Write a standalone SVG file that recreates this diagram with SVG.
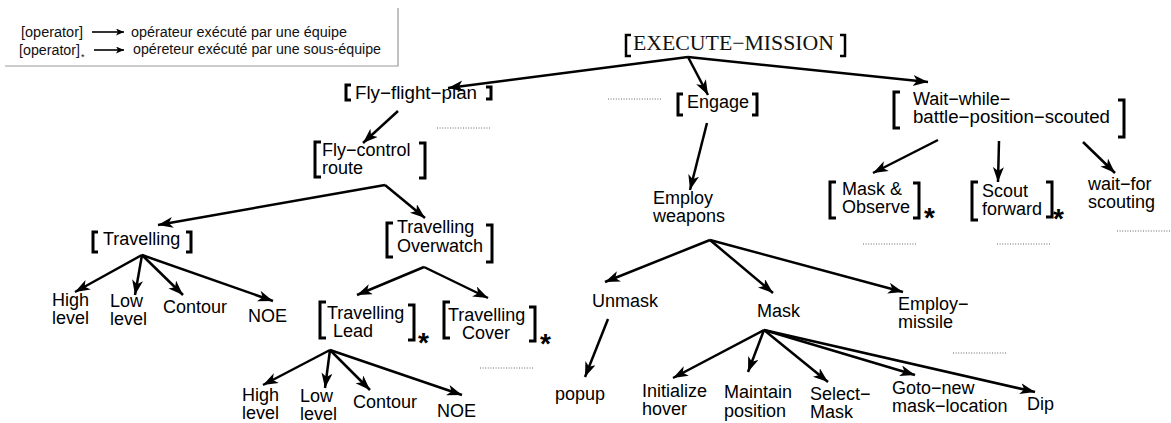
<svg xmlns="http://www.w3.org/2000/svg" width="1171" height="423" viewBox="0 0 1171 423">
<style>
.t{font-family:"Liberation Sans",Arial,sans-serif;font-size:18px;fill:#000}
.ts{font-family:"Liberation Serif","Times New Roman",serif;font-size:21px;fill:#111}
.lg{font-family:"Liberation Sans",Arial,sans-serif;font-size:14px;fill:#111}
.st{font-family:"Liberation Sans",Arial,sans-serif;font-size:28px;font-weight:bold;fill:#000}
.br{fill:none;stroke:#000;stroke-width:3}
.e{fill:none;stroke:#000;stroke-width:2.5;marker-end:url(#ah)}
.le{fill:none;stroke:#000;stroke-width:1.6;marker-end:url(#lah)}
.dot{fill:none;stroke:#666;stroke-width:1;stroke-dasharray:1 1.6}
.frame{fill:none;stroke:#999;stroke-width:1.2}
</style>
<defs>
<marker id="ah" markerUnits="userSpaceOnUse" markerWidth="17" markerHeight="12" refX="15" refY="5.5" orient="auto">
<path d="M0,0 L15,5.5 L0,11 L4,5.5 z" fill="#000"/>
</marker>
<marker id="lah" markerUnits="userSpaceOnUse" markerWidth="10" markerHeight="8" refX="8" refY="3.5" orient="auto">
<path d="M0,0 L8,3.5 L0,7 L2,3.5 z" fill="#000"/>
</marker>
</defs>
<rect width="1171" height="423" fill="#fff"/>

<g id="legend">
<path class="frame" d="M398,8 V66 H5"/>
<text class="lg" x="21" y="37" textLength="62" lengthAdjust="spacingAndGlyphs">[operator]</text>
<path class="le" d="M92,32 H124"/>
<text class="lg" x="131" y="37" textLength="216" lengthAdjust="spacingAndGlyphs">opérateur exécuté par une équipe</text>
<text class="lg" x="19" y="55" textLength="61" lengthAdjust="spacingAndGlyphs">[operator]</text>
<text class="lg" x="81" y="60" style="font-size:9px">*</text>
<path class="le" d="M94,50 H124"/>
<text class="lg" x="133" y="54" textLength="248" lengthAdjust="spacingAndGlyphs">opéreteur exécuté par une sous-équipe</text>
</g>

<g id="connectors">
<path class="e" d="M688,57 L448,88"/>
<path class="e" d="M688,57 L708,95"/>
<path class="e" d="M688,57 L928,82"/>
<path class="e" d="M398,111 L363,143"/>
<path class="e" d="M385,185 L158,225"/>
<path class="e" d="M385,185 L425,218"/>
<path class="e" d="M142,255 L75,292"/>
<path class="e" d="M142,255 L135,295"/>
<path class="e" d="M142,255 L183,295"/>
<path class="e" d="M142,255 L273,301"/>
<path class="e" d="M424,267 L357,295"/>
<path class="e" d="M424,267 L488,298"/>
<path class="e" d="M330,350 L263,385"/>
<path class="e" d="M330,350 L325,388"/>
<path class="e" d="M330,350 L370,390"/>
<path class="e" d="M330,350 L462,395"/>
<path class="e" d="M707,123 L690,190"/>
<path class="e" d="M710,240 L605,282"/>
<path class="e" d="M710,240 L773,293"/>
<path class="e" d="M710,240 L903,292"/>
<path class="e" d="M608,319 L585,377"/>
<path class="e" d="M764,330 L673,378"/>
<path class="e" d="M764,330 L748,372"/>
<path class="e" d="M764,330 L828,382"/>
<path class="e" d="M764,330 L915,375"/>
<path class="e" d="M764,330 L1035,392"/>
<path class="e" d="M938,140 L873,173"/>
<path class="e" d="M999,141 L998,182"/>
<path class="e" d="M1083,142 L1115,173"/>
</g>

<g id="ellipses">
<path class="dot" d="M437,128 H490"/>
<path class="dot" d="M608,99 H662"/>
<path class="dot" d="M863,244 H917"/>
<path class="dot" d="M997,244 H1050"/>
<path class="dot" d="M1117,231 H1171"/>
<path class="dot" d="M480,368 H534"/>
<path class="dot" d="M953,353 H1007"/>
</g>

<g id="execute-mission">
<path class="br" style="stroke-width:2.5" d="M631,35 H626 V56 H631"/>
<text class="ts" x="633" y="50" textLength="201" lengthAdjust="spacingAndGlyphs">EXECUTE−MISSION</text>
<path class="br" style="stroke-width:2.5" d="M840,35 H845 V56 H840"/>
</g>

<g id="fly-flight-plan">
<path class="br" d="M351,85 H346 V100 H351"/>
<text class="t" x="355" y="99" textLength="122" lengthAdjust="spacingAndGlyphs">Fly−flight−plan</text>
<path class="br" d="M486,87 H491 V99 H486"/>
</g>

<g id="engage">
<path class="br" d="M683,94 H678 V115 H683"/>
<text class="t" x="687" y="108">Engage</text>
<path class="br" d="M752,94 H757 V115 H752"/>
</g>

<g id="wait-while">
<path class="br" d="M900,92 H894 V128 H900"/>
<text class="t" x="913" y="105">Wait−while−</text>
<text class="t" x="913" y="123" textLength="197" lengthAdjust="spacingAndGlyphs">battle−position−scouted</text>
<path class="br" d="M1118,100 H1124 V137 H1118"/>
</g>

<g id="fly-control-route">
<path class="br" d="M321,142 H315 V177 H321"/>
<text class="t" x="322" y="156">Fly−control</text>
<text class="t" x="322" y="174">route</text>
<path class="br" d="M419,143 H425 V178 H419"/>
</g>

<g id="travelling">
<path class="br" d="M98,232 H93 V252 H98"/>
<text class="t" x="103" y="245">Travelling</text>
<path class="br" d="M186,232 H191 V252 H186"/>
</g>

<g id="travelling-overwatch">
<path class="br" d="M393,223 H387 V257 H393"/>
<text class="t" x="397" y="233">Travelling</text>
<text class="t" x="397" y="252">Overwatch</text>
<path class="br" d="M486,225 H492 V262 H486"/>
</g>

<g id="high-level-1"><text class="t" x="52" y="306">High</text><text class="t" x="52" y="324">level</text></g>
<g id="low-level-1"><text class="t" x="110" y="307">Low</text><text class="t" x="110" y="325">level</text></g>
<g id="contour-1"><text class="t" x="163" y="313">Contour</text></g>
<g id="noe-1"><text class="t" x="248" y="322">NOE</text></g>

<g id="travelling-lead">
<path class="br" d="M326,302 H320 V338 H326"/>
<text class="t" x="327" y="319">Travelling</text>
<text class="t" x="333" y="337">Lead</text>
<path class="br" d="M408,305 H414 V340 H408"/>
<text class="st" x="418" y="352">*</text>
</g>

<g id="travelling-cover">
<path class="br" d="M450,302 H444 V338 H450"/>
<text class="t" x="448" y="321">Travelling</text>
<text class="t" x="462" y="339">Cover</text>
<path class="br" d="M529,307 H535 V341 H529"/>
<text class="st" x="540" y="353">*</text>
</g>

<g id="high-level-2"><text class="t" x="242" y="401">High</text><text class="t" x="242" y="419">level</text></g>
<g id="low-level-2"><text class="t" x="300" y="402">Low</text><text class="t" x="300" y="420">level</text></g>
<g id="contour-2"><text class="t" x="353" y="408">Contour</text></g>
<g id="noe-2"><text class="t" x="437" y="417">NOE</text></g>

<g id="employ-weapons"><text class="t" x="653" y="204">Employ</text><text class="t" x="653" y="222">weapons</text></g>

<g id="mask-observe">
<path class="br" d="M836,182 H830 V218 H836"/>
<text class="t" x="842" y="195">Mask &amp;</text>
<text class="t" x="842" y="213">Observe</text>
<path class="br" d="M913,183 H919 V218 H913"/>
<text class="st" x="924" y="227">*</text>
</g>

<g id="scout-forward">
<path class="br" d="M978,182 H972 V220 H978"/>
<text class="t" x="982" y="197">Scout</text>
<text class="t" x="982" y="215">forward</text>
<path class="br" d="M1046,182 H1052 V217 H1046"/>
<text class="st" x="1053" y="228">*</text>
</g>

<g id="wait-for-scouting"><text class="t" x="1088" y="190">wait−for</text><text class="t" x="1088" y="208">scouting</text></g>

<g id="unmask"><text class="t" x="592" y="307">Unmask</text></g>
<g id="mask"><text class="t" x="757" y="317">Mask</text></g>
<g id="employ-missile"><text class="t" x="898" y="310">Employ−</text><text class="t" x="898" y="328">missile</text></g>
<g id="popup"><text class="t" x="555" y="400">popup</text></g>
<g id="initialize-hover"><text class="t" x="642" y="397">Initialize</text><text class="t" x="642" y="415">hover</text></g>
<g id="maintain-position"><text class="t" x="724" y="398">Maintain</text><text class="t" x="724" y="417">position</text></g>
<g id="select-mask"><text class="t" x="810" y="400">Select−</text><text class="t" x="810" y="418">Mask</text></g>
<g id="goto-new-mask-location"><text class="t" x="892" y="394">Goto−new</text><text class="t" x="892" y="412">mask−location</text></g>
<g id="dip"><text class="t" x="1027" y="410">Dip</text></g>
</svg>
